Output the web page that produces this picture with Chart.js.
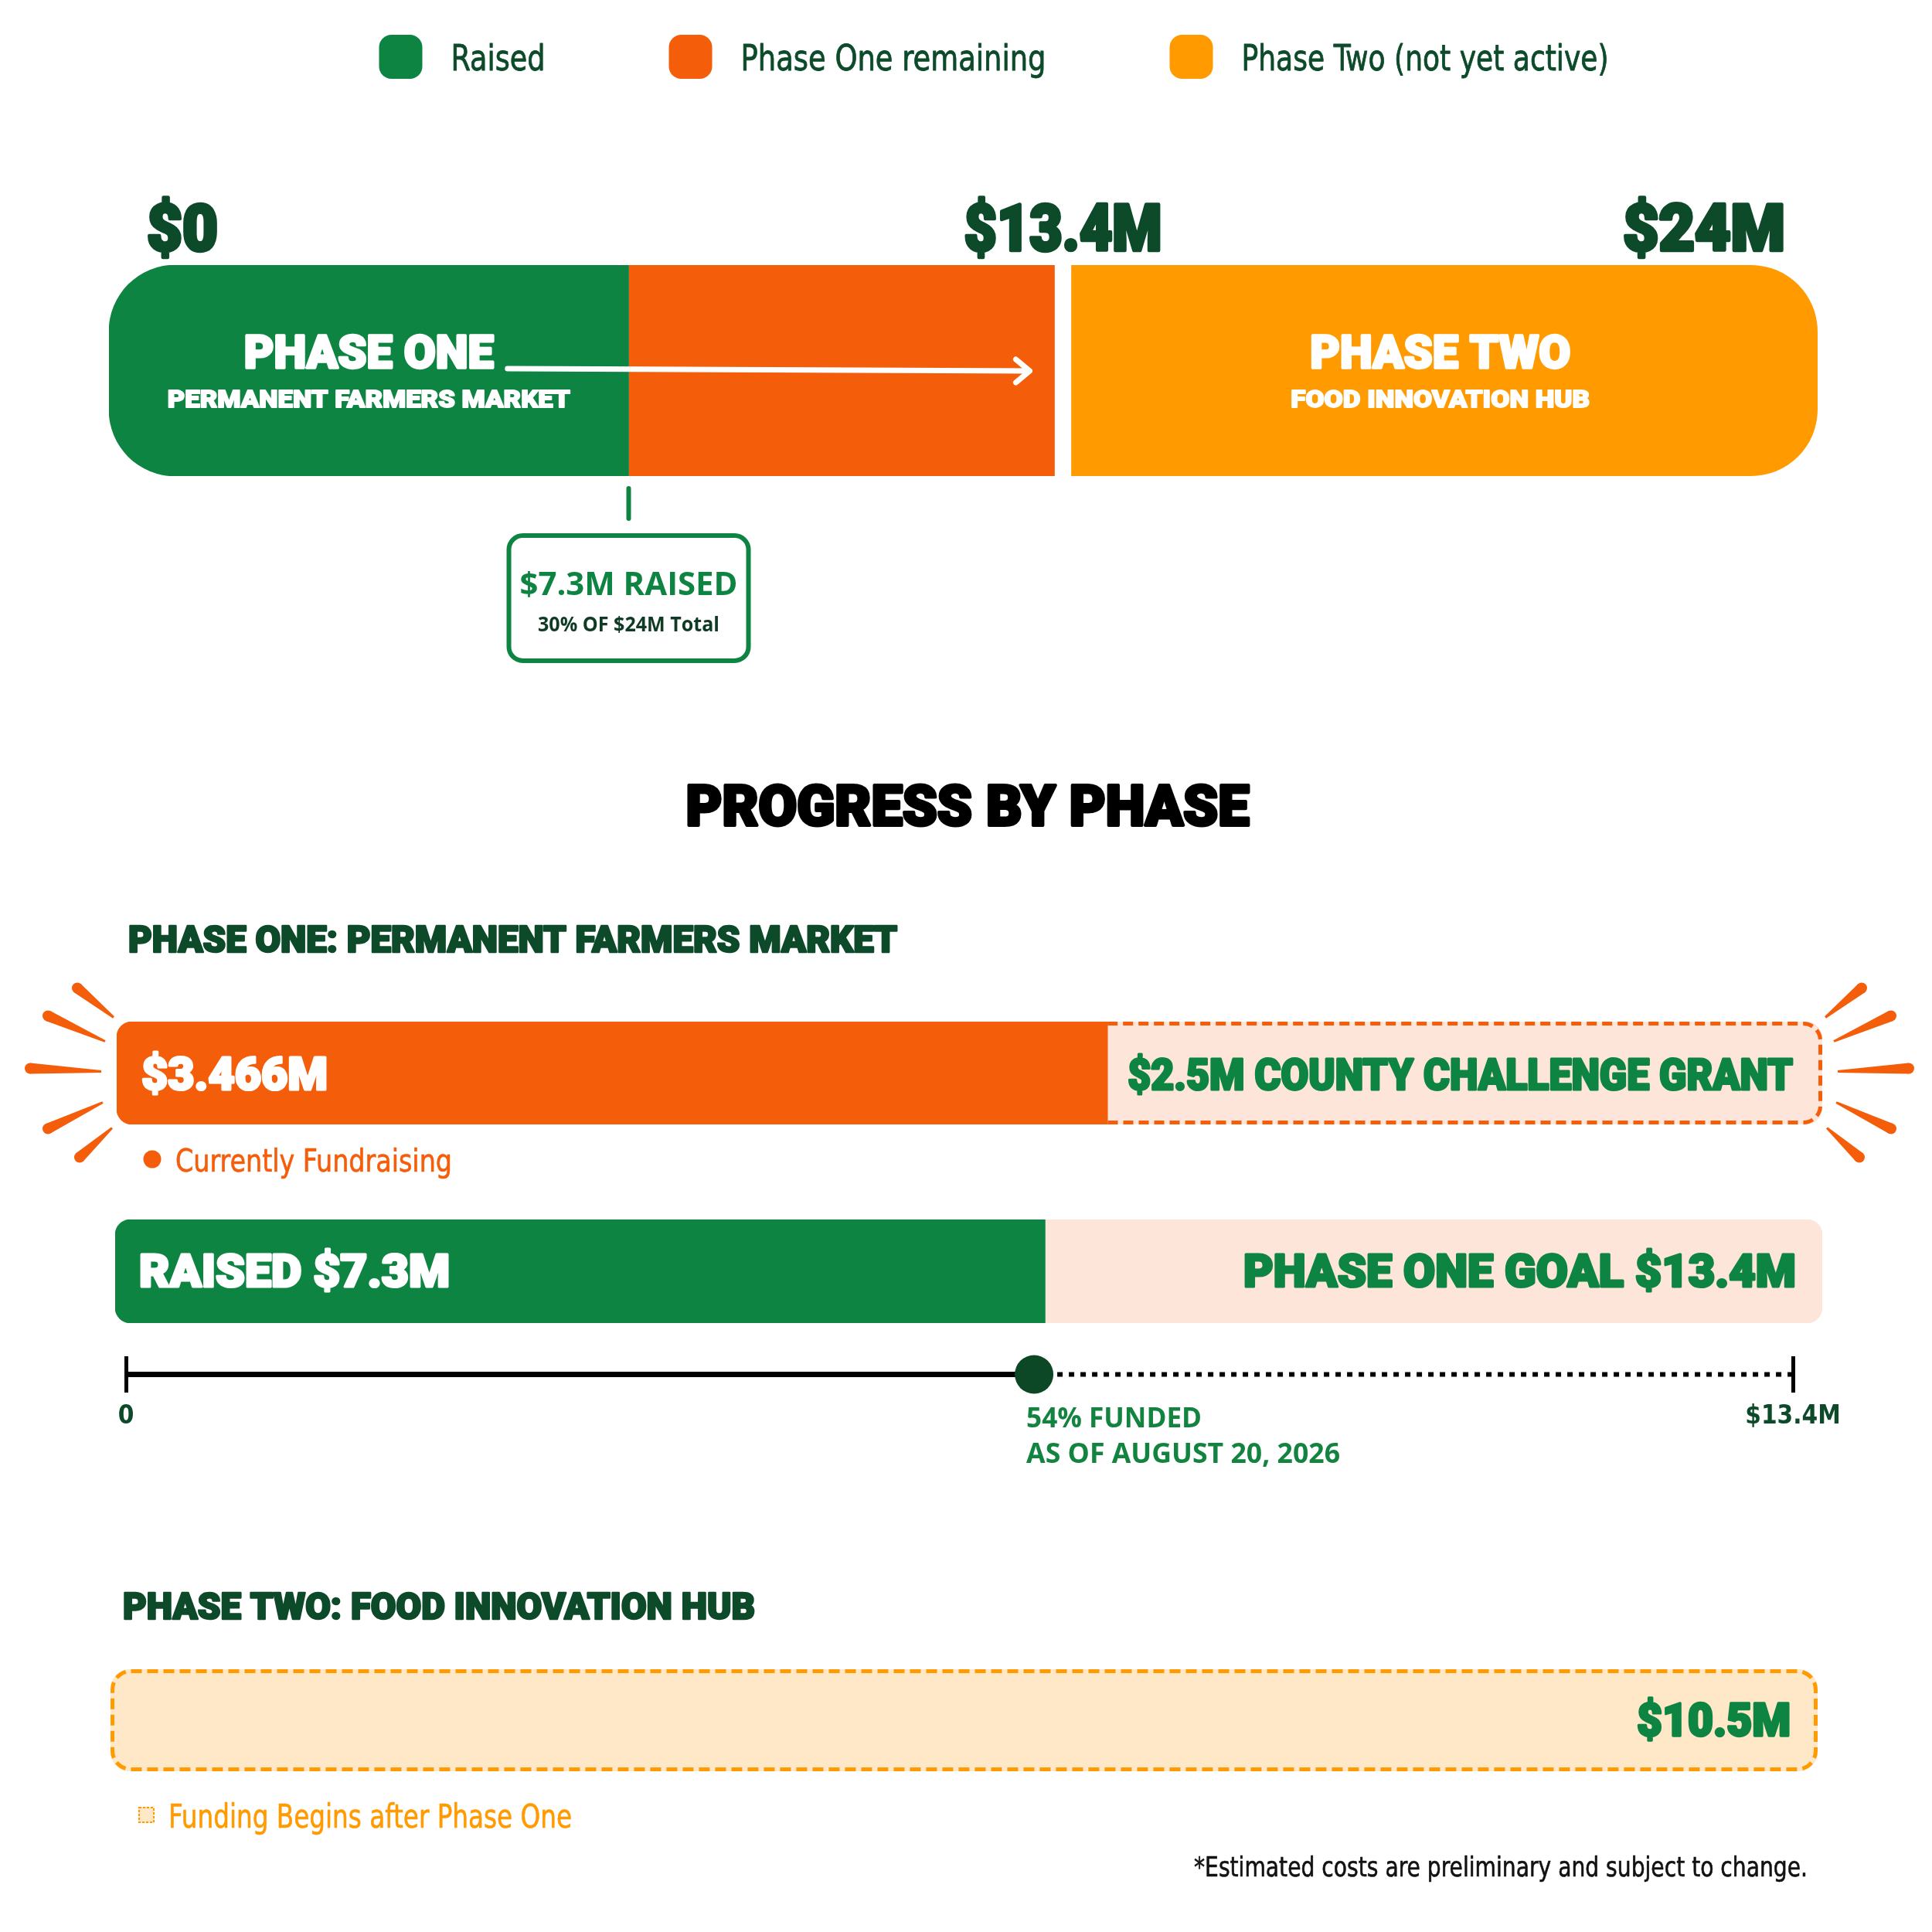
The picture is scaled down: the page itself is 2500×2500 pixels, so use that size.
<!DOCTYPE html>
<html lang="en">
<head>
<meta charset="utf-8">
<title>Campaign progress by phase</title>
<script src="https://cdn.jsdelivr.net/npm/chart.js@4.4.1/dist/chart.umd.min.js"></script>
<style>
  html, body { margin: 0; padding: 0; background: #ffffff; }
  #page { position: relative; width: 2500px; height: 2500px; overflow: hidden; background: #ffffff; }
  #page canvas { position: absolute; left: 0; }
</style>
</head>
<body>
<div id="page">
  <canvas id="overview" width="2500" height="900" style="top:0px"></canvas>
  <canvas id="phaseOneSplit" width="2500" height="580" style="top:980px"></canvas>
  <canvas id="phaseOneRaised" width="2500" height="170" style="top:1560px"></canvas>
  <canvas id="timeline" width="2500" height="190" style="top:1730px"></canvas>
  <canvas id="phaseTwo" width="2500" height="460" style="top:2040px"></canvas>
</div>
<script>
// values are in $ millions
const legendLabels = ['Raised', 'Phase One remaining', 'Phase Two (not yet active)'];
const milestoneValues = [0, 13.4, 24];
const milestoneLabels = ['$0', '$13.4M', '$24M'];
const raisedValues = [7.3];
const phaseNames = ['PHASE ONE', 'PHASE TWO'];
const phaseSubtitles = ['PERMANENT FARMERS MARKET', 'FOOD INNOVATION HUB'];
const phaseOneSplitValues = [3.466, 2.5];
const phaseOneSplitLabels = ['Currently Fundraising', 'COUNTY CHALLENGE GRANT'];
const timelineTicks = [0, 13.4];
const timelineTickLabels = ['0', '$13.4M'];
const phaseTwoValues = [10.5];
const notes = ['AS OF AUGUST 20, 2026', 'Funding Begins after Phase One',
  '*Estimated costs are preliminary and subject to change.'];

const raised = raisedValues[0];
const phaseOneGoal = milestoneValues[1];
const totalGoal = milestoneValues[2];
const overviewSegments = [raised, phaseOneGoal - raised, totalGoal - phaseOneGoal];
const money = v => '$' + v + 'M';

// colours and fonts
const GREEN = '#0e8443';
const ORANGE = '#f45d0a';
const AMBER = '#ff9a00';
const PEACH = '#fee5d9';
const CREAM = '#fee8c8';
const DARK = '#0c4a2a';
const DOT = '#0c4726';
const HEAVY = "Roboto, Lato, sans-serif";
const NARROW = "'Liberation Sans Narrow', 'DejaVu Sans Condensed', 'Open Sans', sans-serif";
const SEMI = "'Open Sans', 'Noto Sans', sans-serif";
const heavy = size => '900 ' + size + 'px ' + HEAVY;
const narrow = (weight, size) => weight + ' ' + size + 'px ' + NARROW;
const semi = size => '700 ' + size + 'px ' + SEMI;

// widths the reference lettering occupies (text is squeezed / stretched to fit)
const LEGEND_W = [122, 395, 475];
const MILESTONE_W = [92, 256, 210];

// fitW squeezes the run to a width; thick adds an outline to darken heavy lettering
function text(ctx, str, x, y, font, color, align, fitW, thick) {
  ctx.save();
  ctx.font = font;
  ctx.fillStyle = color;
  ctx.textAlign = 'left';
  ctx.textBaseline = 'alphabetic';
  const w = ctx.measureText(str).width;
  const k = fitW ? fitW / w : 1;
  const dw = w * k;
  const left = align === 'center' ? x - dw / 2 : align === 'right' ? x - dw : x;
  ctx.translate(left, y);
  ctx.scale(k, 1);
  if (thick) {
    ctx.strokeStyle = color;
    ctx.lineWidth = thick;
    ctx.lineJoin = 'round';
    ctx.strokeText(str, 0, 0);
  }
  ctx.fillText(str, 0, 0);
  ctx.restore();
  return dw;
}
const bolder = size => Math.max(1.2, size * 0.055);

function roundRect(ctx, x, y, w, h, r) {
  ctx.beginPath();
  ctx.moveTo(x + r, y);
  ctx.lineTo(x + w - r, y);
  ctx.arcTo(x + w, y, x + w, y + r, r);
  ctx.lineTo(x + w, y + h - r);
  ctx.arcTo(x + w, y + h, x + w - r, y + h, r);
  ctx.lineTo(x + r, y + h);
  ctx.arcTo(x, y + h, x, y + h - r, r);
  ctx.lineTo(x, y + r);
  ctx.arcTo(x, y, x + r, y, r);
  ctx.closePath();
}

// rounded outline, optionally left open where it meets the previous segment
function dashedOutline(ctx, l, t, r, b, rad, openLeft, color, lw, dash) {
  ctx.save();
  ctx.strokeStyle = color;
  ctx.lineWidth = lw;
  ctx.setLineDash(dash);
  ctx.beginPath();
  ctx.moveTo(openLeft ? l : l + rad, t);
  ctx.lineTo(r - rad, t);
  ctx.arcTo(r, t, r, t + rad, rad);
  ctx.lineTo(r, b - rad);
  ctx.arcTo(r, b, r - rad, b, rad);
  if (openLeft) {
    ctx.lineTo(l, b);
  } else {
    ctx.lineTo(l + rad, b);
    ctx.arcTo(l, b, l, b - rad, rad);
    ctx.lineTo(l, t + rad);
    ctx.arcTo(l, t, l + rad, t, rad);
    ctx.closePath();
  }
  ctx.stroke();
  ctx.restore();
}

function barBox(chart, datasetIndex) {
  const el = chart.getDatasetMeta(datasetIndex).data[0];
  const p = el.getProps(['x', 'y', 'base', 'height'], true);
  return {
    left: Math.min(p.base, p.x), right: Math.max(p.base, p.x),
    top: p.y - p.height / 2, bottom: p.y + p.height / 2, cy: p.y
  };
}

// tapered burst stroke, thick at the outer end
function ray(ctx, x1, y1, x2, y2, w1, w2) {
  const len = Math.hypot(x2 - x1, y2 - y1);
  const nx = -(y2 - y1) / len, ny = (x2 - x1) / len;
  ctx.beginPath();
  ctx.moveTo(x1 + nx * w1 / 2, y1 + ny * w1 / 2);
  ctx.lineTo(x2 + nx * w2 / 2, y2 + ny * w2 / 2);
  ctx.lineTo(x2 - nx * w2 / 2, y2 - ny * w2 / 2);
  ctx.lineTo(x1 - nx * w1 / 2, y1 - ny * w1 / 2);
  ctx.closePath();
  ctx.fill();
  ctx.beginPath();
  ctx.arc(x1, y1, w1 / 2, 0, Math.PI * 2);
  ctx.fill();
}
const RAYS = [[-51, -110, -4, -72], [-89, -74, -15, -41], [-112, -6, -20, -2], [-89, 72, -18, 38], [-48, 109, -6, 71]];

function barOptions(padding, max) {
  return {
    indexAxis: 'y',
    responsive: false,
    animation: false,
    devicePixelRatio: 1,
    events: [],
    layout: { padding },
    datasets: { bar: { barPercentage: 1, categoryPercentage: 1, borderSkipped: false } },
    plugins: { legend: { display: false }, tooltip: { enabled: false } },
    scales: {
      x: { display: false, stacked: true, min: 0, max },
      y: { display: false, stacked: true }
    }
  };
}

// ---------- overview bar: $0 -> $24M ----------
const overviewDecor = {
  id: 'overviewDecor',
  afterDatasetsDraw(chart) {
    const ctx = chart.ctx;
    const xs = chart.scales.x;

    // legend
    const items = chart.data.datasets.map((d, i) => ({ label: d.label, color: d.backgroundColor, w: LEGEND_W[i] }));
    const total = items.reduce((s, it) => s + 93 + it.w, 0) + 160 * (items.length - 1);
    let lx = 1286 - total / 2;
    items.forEach(it => {
      ctx.fillStyle = it.color;
      roundRect(ctx, lx, 45, 56, 57, 16);
      ctx.fill();
      text(ctx, it.label, lx + 93, 91, narrow(400, 47), DARK, 'left', it.w, 0.8);
      lx += 93 + it.w + 160;
    });

    // milestone amounts above the bar
    milestoneValues.forEach((v, i) => {
      const p = xs.getPixelForValue(v);
      const last = i === milestoneValues.length - 1;
      const align = i === 0 ? 'left' : last ? 'right' : 'center';
      const x = i === 0 ? p + 49 : last ? p - 42 : p;
      text(ctx, milestoneLabels[i], x, 324, heavy(83), DARK, align, MILESTONE_W[i], bolder(83));
    });

    // phase names
    const one = barBox(chart, 0);
    const two = barBox(chart, 2);
    const c1 = (one.left + one.right) / 2;
    const c2 = (two.left + two.right) / 2;
    text(ctx, phaseNames[0], c1, 476, heavy(60), '#ffffff', 'center', 323, bolder(60));
    text(ctx, phaseSubtitles[0], c1, 527, heavy(32), '#ffffff', 'center', 521, bolder(32));
    text(ctx, phaseNames[1], c2, 476, heavy(60), '#ffffff', 'center', 337, bolder(60));
    text(ctx, phaseSubtitles[1], c2, 527, heavy(32), '#ffffff', 'center', 387, bolder(32));

    // arrow from phase one towards the phase one goal
    const ax0 = c1 + 323 / 2 + 18;
    const ax1 = xs.getPixelForValue(phaseOneGoal) - 43;
    ctx.save();
    ctx.strokeStyle = '#ffffff';
    ctx.lineWidth = 7;
    ctx.lineCap = 'round';
    ctx.lineJoin = 'round';
    ctx.beginPath();
    ctx.moveTo(ax0, 477);
    ctx.lineTo(ax1, 480);
    ctx.moveTo(ax1 - 18, 465);
    ctx.lineTo(ax1, 480);
    ctx.lineTo(ax1 - 18, 495);
    ctx.stroke();
    ctx.restore();

    // raised callout
    const rx = xs.getPixelForValue(raised);
    ctx.save();
    ctx.strokeStyle = GREEN;
    ctx.lineCap = 'round';
    ctx.lineWidth = 6;
    ctx.beginPath();
    ctx.moveTo(rx, 632);
    ctx.lineTo(rx, 671);
    ctx.stroke();
    ctx.fillStyle = '#ffffff';
    roundRect(ctx, rx - 155, 693, 310, 162, 18);
    ctx.fill();
    ctx.stroke();
    ctx.restore();
    text(ctx, money(raised) + ' RAISED', rx, 770, semi(41), GREEN, 'center', 282);
    text(ctx, Math.round(raised / totalGoal * 100) + '% OF ' + money(totalGoal) + ' Total',
      rx, 817, semi(27), '#0f3a24', 'center', 235);
  }
};

new Chart(document.getElementById('overview'), {
  type: 'bar',
  data: {
    labels: ['Campaign'],
    datasets: [
      { label: legendLabels[0], data: [overviewSegments[0]], backgroundColor: GREEN,
        borderWidth: 0, borderRadius: { topLeft: 86, bottomLeft: 86, topRight: 0, bottomRight: 0 } },
      { label: legendLabels[1], data: [overviewSegments[1]], backgroundColor: ORANGE,
        borderColor: '#ffffff', borderWidth: { top: 0, right: 11, bottom: 0, left: 0 }, borderRadius: 0 },
      { label: legendLabels[2], data: [overviewSegments[2]], backgroundColor: AMBER,
        borderColor: '#ffffff', borderWidth: { top: 0, right: 0, bottom: 0, left: 11 },
        borderRadius: { topLeft: 0, bottomLeft: 0, topRight: 86, bottomRight: 86 } }
    ]
  },
  options: barOptions({ left: 141, right: 148, top: 343, bottom: 284 }, totalGoal),
  plugins: [overviewDecor]
});

// ---------- phase one: current fundraising + county grant ----------
const splitDecor = {
  id: 'splitDecor',
  afterDatasetsDraw(chart) {
    const ctx = chart.ctx;
    text(ctx, 'PROGRESS BY PHASE', 1252, 88, heavy(72), '#000000', 'center', 729, bolder(72));
    text(ctx, phaseNames[0] + ': ' + phaseSubtitles[0], 166, 252, heavy(48), DARK, 'left', 995, bolder(48));

    const a = barBox(chart, 0);
    const g = barBox(chart, 1);
    dashedOutline(ctx, g.left, g.top + 2.5, g.right - 2.5, g.bottom - 2.5, 22, true, ORANGE, 5, [13, 7]);

    text(ctx, money(phaseOneSplitValues[0]), a.left + 32, a.cy + 21, heavy(59), '#ffffff', 'left', 241, bolder(59));
    // keep the grant label inside its own segment
    const grantW = Math.min(893, g.right - g.left - 38 - 26);
    text(ctx, money(phaseOneSplitValues[1]) + ' ' + phaseOneSplitLabels[1], g.right - 38, g.cy + 21,
      heavy(55), GREEN, 'right', grantW, bolder(55));

    ctx.save();
    ctx.fillStyle = ORANGE;
    RAYS.forEach(r => {
      ray(ctx, a.left + r[0], a.cy + r[1], a.left + r[2], a.cy + r[3], 14, 3);
      ray(ctx, g.right - r[0], g.cy + r[1], g.right - r[2], g.cy + r[3], 14, 3);
    });
    ctx.beginPath();
    ctx.arc(a.left + 46, 520, 11.5, 0, Math.PI * 2);
    ctx.fill();
    ctx.restore();
    text(ctx, phaseOneSplitLabels[0], a.left + 76, 536, narrow(400, 40), ORANGE, 'left', 358, 0.6);
  }
};

new Chart(document.getElementById('phaseOneSplit'), {
  type: 'bar',
  data: {
    labels: ['Phase One'],
    datasets: [
      { label: phaseOneSplitLabels[0], data: [phaseOneSplitValues[0]], backgroundColor: ORANGE,
        borderWidth: 0, borderRadius: { topLeft: 20, bottomLeft: 20, topRight: 0, bottomRight: 0 } },
      { label: phaseOneSplitLabels[1], data: [phaseOneSplitValues[1]], backgroundColor: PEACH,
        borderWidth: 0, borderRadius: { topLeft: 0, bottomLeft: 0, topRight: 22, bottomRight: 22 } }
    ]
  },
  options: barOptions({ left: 151, right: 142, top: 342, bottom: 105 },
    phaseOneSplitValues[0] + phaseOneSplitValues[1]),
  plugins: [splitDecor]
});

// ---------- phase one: raised vs goal ----------
const raisedDecor = {
  id: 'raisedDecor',
  afterDatasetsDraw(chart) {
    const ctx = chart.ctx;
    const a = barBox(chart, 0);
    const b = barBox(chart, 1);
    text(ctx, 'RAISED ' + money(raised), a.left + 31, a.cy + 20, heavy(59), '#ffffff', 'left', 402, bolder(59));
    text(ctx, 'PHASE ONE GOAL ' + money(phaseOneGoal), b.right - 34, b.cy + 20, heavy(59), GREEN, 'right', 715, bolder(59));
  }
};

new Chart(document.getElementById('phaseOneRaised'), {
  type: 'bar',
  data: {
    labels: ['Phase One'],
    datasets: [
      { label: 'Raised', data: [raised], backgroundColor: GREEN, borderWidth: 0,
        borderRadius: { topLeft: 20, bottomLeft: 20, topRight: 0, bottomRight: 0 } },
      { label: 'Phase One goal', data: [phaseOneGoal - raised], backgroundColor: PEACH, borderWidth: 0,
        borderRadius: { topLeft: 0, bottomLeft: 0, topRight: 20, bottomRight: 20 } }
    ]
  },
  options: barOptions({ left: 149, right: 142, top: 18, bottom: 18 }, phaseOneGoal),
  plugins: [raisedDecor]
});

// ---------- timeline 0 -> $13.4M ----------
const timelineDecor = {
  id: 'timelineDecor',
  afterDatasetsDraw(chart) {
    const ctx = chart.ctx;
    const x = chart.scales.x.getPixelForValue(raised) - 10;
    text(ctx, Math.round(raised / phaseOneGoal * 100) + '% FUNDED', x, 117, semi(35), '#13843f', 'left', 227);
    text(ctx, notes[0], x, 163, semi(35), '#13843f', 'left', 406);
  }
};

new Chart(document.getElementById('timeline'), {
  type: 'line',
  data: {
    datasets: [
      { label: 'Today', data: [{ x: raised, y: 0 }], showLine: false, pointRadius: 25,
        pointBackgroundColor: DOT, pointBorderWidth: 0, clip: false },
      { label: 'Raised', data: [{ x: timelineTicks[0], y: 0 }, { x: raised, y: 0 }],
        borderColor: '#000000', borderWidth: 7, pointRadius: 0, clip: false },
      { label: 'Remaining', data: [{ x: raised, y: 0 }, { x: timelineTicks[1], y: 0 }],
        borderColor: '#000000', borderWidth: 6, borderDash: [7, 8], pointRadius: 0, clip: false }
    ]
  },
  options: {
    responsive: false,
    animation: false,
    devicePixelRatio: 1,
    events: [],
    layout: { padding: { left: 163, right: 180, top: 20, bottom: 66 } },
    plugins: { legend: { display: false }, tooltip: { enabled: false } },
    scales: {
      x: {
        type: 'linear', min: timelineTicks[0], max: timelineTicks[1],
        afterBuildTicks: scale => { scale.ticks = timelineTicks.map(v => ({ value: v })); },
        grid: { color: '#000000', lineWidth: 5, drawTicks: false },
        border: { display: false },
        ticks: {
          padding: 12, color: DARK, autoSkip: false, maxRotation: 0,
          font: { family: NARROW, size: 33, weight: 'bold' },
          callback: (v, i) => timelineTickLabels[i]
        }
      },
      y: { display: false, min: -1, max: 1 }
    }
  },
  plugins: [timelineDecor]
});

// ---------- phase two ----------
const phaseTwoDecor = {
  id: 'phaseTwoDecor',
  afterDatasetsDraw(chart) {
    const ctx = chart.ctx;
    const b = barBox(chart, 0);
    text(ctx, phaseNames[1] + ': ' + phaseSubtitles[1], b.left + 16, 55, heavy(48), DARK, 'left', 818, bolder(48));
    dashedOutline(ctx, b.left + 2.5, b.top + 2.5, b.right - 2.5, b.bottom - 2.5, 24, false, AMBER, 5, [14, 7]);
    text(ctx, money(phaseTwoValues[0]), b.right - 35, b.cy + 20, heavy(60), GREEN, 'right', 199, bolder(60));

    ctx.fillStyle = CREAM;
    ctx.fillRect(b.left + 36, 298, 21, 21);
    ctx.save();
    ctx.strokeStyle = AMBER;
    ctx.lineWidth = 2;
    ctx.setLineDash([3, 2]);
    ctx.strokeRect(b.left + 37, 299, 19, 19);
    ctx.restore();
    text(ctx, notes[1], b.left + 75, 325, narrow(400, 42), AMBER, 'left', 522, 0.6);
    text(ctx, notes[2], b.right - 13, 388, narrow(400, 35), '#111111', 'right', 794, 0.6);
  }
};

new Chart(document.getElementById('phaseTwo'), {
  type: 'bar',
  data: {
    labels: ['Phase Two'],
    datasets: [
      { label: 'Phase Two goal', data: [phaseTwoValues[0]], backgroundColor: CREAM,
        borderWidth: 0, borderRadius: 26 }
    ]
  },
  options: barOptions({ left: 143, right: 148, top: 120, bottom: 208 }, phaseTwoValues[0]),
  plugins: [phaseTwoDecor]
});
</script>
</body>
</html>
